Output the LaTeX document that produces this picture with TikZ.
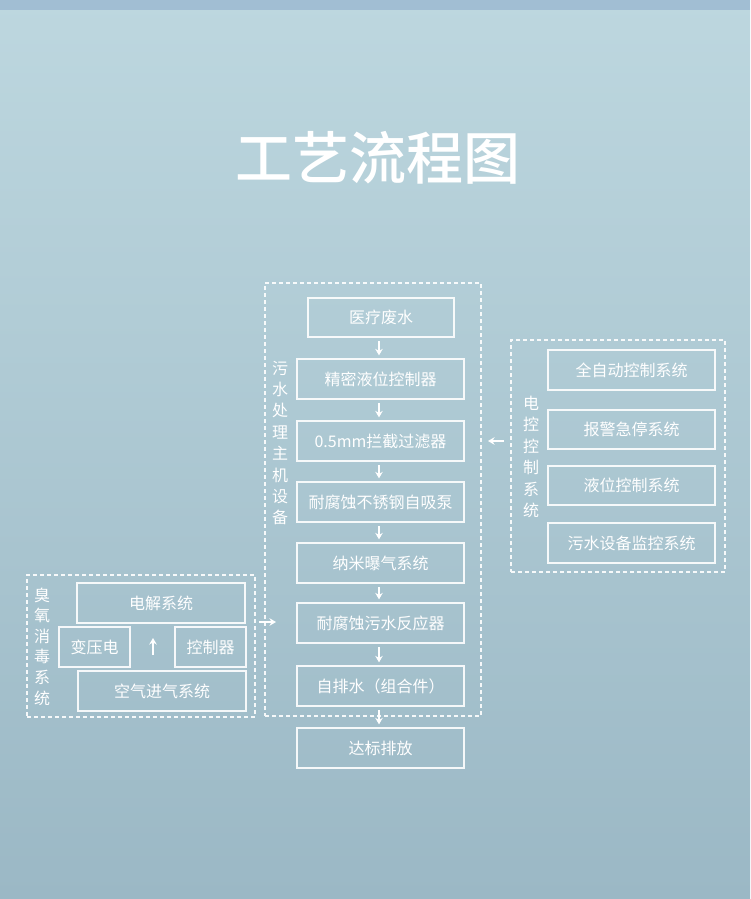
\documentclass[tikz,border=0pt]{standalone}
\usepackage{fontspec}
\setmainfont{Noto Sans CJK SC}
\newfontfamily\titlefont{Noto Sans CJK SC}[UprightFont=* Medium]
\usetikzlibrary{arrows.meta,calc}
\definecolor{bgtop}{HTML}{BDD7DF}
\definecolor{bgbot}{HTML}{9BB8C5}
\definecolor{band}{HTML}{A1BED3}
\tikzset{
  box/.style={draw=white, draw opacity=0.9, line width=1.3pt, minimum height=40pt, text=white,
    font=\fontsize{16}{16}\selectfont, inner sep=0pt},
  grp/.style={draw=white, draw opacity=0.9, line width=1.2pt, dash pattern=on 4pt off 3pt, inner sep=0pt},
  arr/.style={-{Stealth[length=6.5pt,width=7.5pt]}, white, line width=1.3pt},
  vlab/.style={text=white, align=center, inner sep=0pt},
}
\begin{document}
\begin{tikzpicture}[x=1pt,y=-1pt]
\useasboundingbox (0,0) rectangle (750,899);
\shade[top color=bgtop, bottom color=bgbot] (0,0) rectangle (750,899);
\fill[band] (0,0) rectangle (750,10);

\node[text=white, font=\fontsize{57}{57}\titlefont] (title) at (378,158) {工艺流程图};

% main group
\node[grp, minimum width=216pt, minimum height=433pt] (gmain) at (373,499.5) {};
\node[vlab, font=\fontsize{16}{21.4}\selectfont] (lmain) at (280,443) {污\\水\\处\\理\\主\\机\\设\\备};

\node[box, minimum width=146pt, minimum height=39pt] (m1) at (381,317.5) {医疗废水};
\node[box, minimum width=167pt] (m2) at (380.5,379) {精密液位控制器};
\node[box, minimum width=167pt] (m3) at (380.5,441) {0.5mm拦截过滤器};
\node[box, minimum width=167pt] (m4) at (380.5,502) {耐腐蚀不锈钢自吸泵};
\node[box, minimum width=167pt] (m5) at (380.5,563) {纳米曝气系统};
\node[box, minimum width=167pt] (m6) at (380.5,623) {耐腐蚀污水反应器};
\node[box, minimum width=167pt] (m7) at (380.5,686) {自排水（组合件）};
\node[box, minimum width=167pt] (m8) at (380.5,748) {达标排放};

\foreach \a/\b in {m1/m2,m2/m3,m3/m4,m4/m5,m5/m6,m6/m7,m7/m8}{
  \draw[arr, shorten <=3.5pt, shorten >=3pt] (\a.south -| 379,0) -- (\b.north -| 379,0);
}

% right group
\node[grp, minimum width=214pt, minimum height=232pt] (gright) at (618,456) {};
\node[vlab, font=\fontsize{16}{21.5}\selectfont] (lright) at (531,457) {电\\控\\控\\制\\系\\统};
\node[box, minimum width=167pt] (r1) at (631.5,370) {全自动控制系统};
\node[box, minimum width=167pt, minimum height=39pt] (r2) at (631.5,429.5) {报警急停系统};
\node[box, minimum width=167pt, minimum height=39pt] (r3) at (631.5,485.5) {液位控制系统};
\node[box, minimum width=167pt] (r4) at (631.5,543) {污水设备监控系统};
\coordinate (ra) at (504,441);
\coordinate (rb) at (488,441);
\draw[arr] (ra) -- (rb);

% left group
\node[grp, minimum width=228pt, minimum height=142pt] (gleft) at (141,646) {};
\node[vlab, font=\fontsize{16}{20.6}\selectfont] (lleft) at (42,646.5) {臭\\氧\\消\\毒\\系\\统};
\node[box, minimum width=168pt] (l1) at (161,603) {电解系统};
\node[box, minimum width=71pt] (l2) at (94.5,647) {变压电};
\node[box, minimum width=71pt] (l3) at (210.5,647) {控制器};
\node[box, minimum width=168pt] (l4) at (162,691) {空气进气系统};
\coordinate (ua) at (153,655);
\coordinate (ub) at (153,638);
\draw[arr] (ua) -- (ub);
\coordinate (la) at (259,622);
\coordinate (lb) at (276,622);
\draw[arr] (la) -- (lb);
\end{tikzpicture}
\end{document}
